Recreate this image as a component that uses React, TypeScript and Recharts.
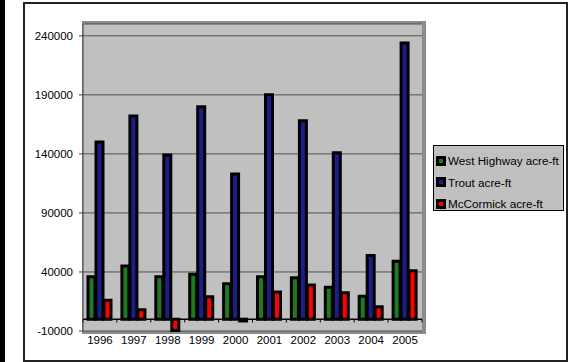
import React from 'react';
import { BarChart, Bar, XAxis, YAxis, CartesianGrid, ReferenceLine } from 'recharts';

const years = ['1996', '1997', '1998', '1999', '2000', '2001', '2002', '2003', '2004', '2005'];
const westHighway = [36000, 45000, 36000, 38000, 30000, 36000, 35000, 27000, 19500, 49000];
const trout = [150000, 172000, 139000, 180000, 123000, 190000, 168000, 141000, 54000, 234000];
const mcCormick = [16000, 8000, -9500, 19000, -1500, 23000, 29000, 22500, 10500, 41000];
const yTicks = [-10000, 40000, 90000, 140000, 190000, 240000];

const series = [
    { key: 'west', name: 'West Highway acre-ft', color: '#1f7a1f' },
    { key: 'trout', name: 'Trout acre-ft', color: '#1c1c8a' },
    { key: 'mccormick', name: 'McCormick acre-ft', color: '#ff0000' },
];

const data = years.map((year, i) => ({
    year,
    west: westHighway[i],
    trout: trout[i],
    mccormick: mcCormick[i],
}));

const font = '"Liberation Sans", Arial, sans-serif';

export default function App() {
    return (
        <div style={{ position: 'fixed', left: 0, top: 0, width: 569, height: 362, background: '#fff', overflow: 'hidden', fontFamily: font }}>
            {/* dark strip on the left edge */}
            <div style={{ position: 'absolute', left: 0, top: 0, width: 5, height: 362, background: '#000' }} />
            {/* chart border */}
            <div style={{ position: 'absolute', left: 23, top: 2, width: 545, height: 360, border: '2px solid #222', boxSizing: 'border-box' }} />
            {/* plot area shadow */}
            <div style={{ position: 'absolute', left: 82, top: 21, width: 344, height: 313, background: '#8c8c8c' }} />

            <div style={{ position: 'absolute', left: 0, top: 0 }}>
                <BarChart
                    width={569}
                    height={362}
                    data={data}
                    margin={{ top: 24, right: 147, left: 0, bottom: 11 }}
                    barSize={7}
                    barGap={1}
                >
                    <CartesianGrid vertical={false} fill="#c0c0c0" stroke="#505050" fillOpacity={1} />
                    <XAxis
                        dataKey="year"
                        height={20}
                        axisLine={false}
                        tickLine={false}
                        tickSize={3}
                        tickMargin={2}
                        interval={0}
                        tick={{ fontSize: 11.5, fill: '#000', fontFamily: font }}
                    />
                    <YAxis
                        width={83}
                        domain={[-10000, 250000]}
                        ticks={yTicks}
                        interval={0}
                        tickSize={4}
                        tickMargin={6}
                        axisLine={{ stroke: '#404040' }}
                        tickLine={{ stroke: '#404040' }}
                        tick={{ fontSize: 11.5, fill: '#000', fontFamily: font }}
                    />
                    {series.map((s) => (
                        <Bar
                            key={s.key}
                            dataKey={s.key}
                            name={s.name}
                            fill={s.color}
                            stroke="#000"
                            strokeWidth={3}
                            isAnimationActive={false}
                        />
                    ))}
                    <ReferenceLine y={0} stroke="#000" strokeWidth={1.5} />
                    {years.map((y) => (
                        <ReferenceLine
                            key={`tick-${y}`}
                            segment={[{ x: y, y: 0 }, { x: y, y: -2800 }]}
                            position="start"
                            stroke="#000"
                        />
                    ))}
                    <ReferenceLine
                        segment={[{ x: years[years.length - 1], y: 0 }, { x: years[years.length - 1], y: -2800 }]}
                        position="end"
                        stroke="#000"
                    />
                </BarChart>
            </div>

            {/* legend */}
            <div style={{ position: 'absolute', left: 433, top: 145, width: 131, height: 66, background: '#c0c0c0', border: '1px solid #000', boxSizing: 'border-box', paddingTop: 4 }}>
                {series.map((s) => (
                    <div key={s.key} style={{ display: 'flex', alignItems: 'center', height: 21.5, fontSize: 11.7, color: '#000', whiteSpace: 'nowrap' }}>
                        <span style={{ display: 'inline-block', width: 4, height: 4, border: '3px solid #000', background: s.color, marginLeft: 2, marginRight: 2 }} />
                        {s.name}
                    </div>
                ))}
            </div>
        </div>
    );
}
